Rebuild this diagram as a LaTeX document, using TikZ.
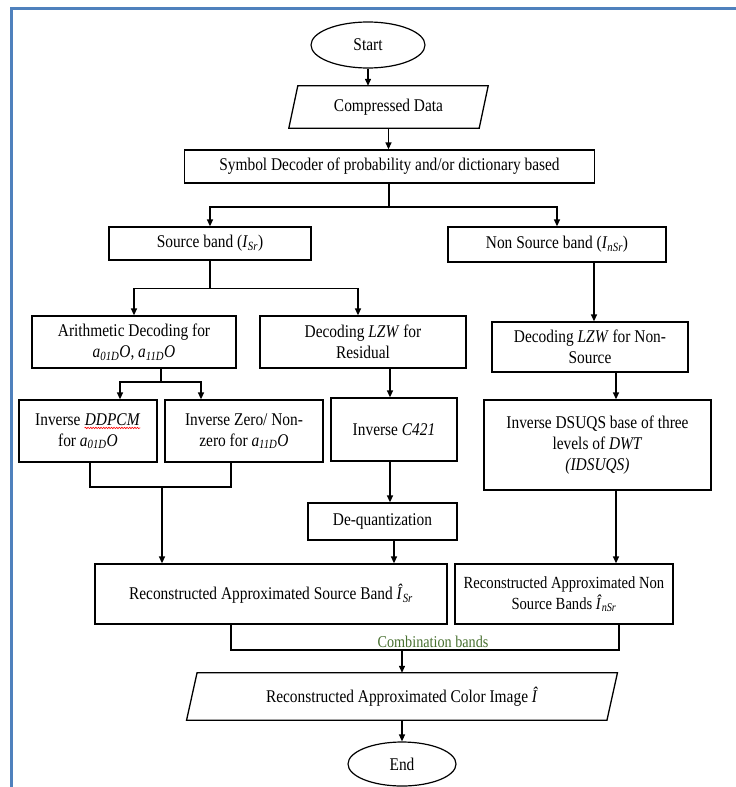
\documentclass[tikz,border=0pt]{standalone}
\usepackage{fontspec}
\setmainfont{Liberation Serif}[FakeStretch=0.86]
\usetikzlibrary{arrows.meta,shapes.geometric,decorations.pathmorphing}

\definecolor{framebl}{RGB}{79,129,189}
\definecolor{combgreen}{RGB}{72,112,48}

% italic symbol with italic subscript, e.g. a_{01D}
\newcommand{\isub}[2]{\textit{#1}\textsubscript{\textit{#2}}}

\begin{document}
\begin{tikzpicture}[x=1pt,y=-1pt,
  font=\fontsize{17.9}{21}\selectfont,
  line/.style={draw=black, line width=1.3pt},
  arr/.style={line, -{Triangle[length=7pt,width=6pt]}},
  box/.style={draw=black, line width=1.3pt, rectangle, align=center, inner sep=2pt},
  terminal/.style={draw=black, line width=1.2pt, ellipse, inner sep=0pt},
  iobox/.style={rectangle, align=center, inner sep=0pt},
  plain/.style={draw=none, rectangle, inner sep=0pt, minimum width=0pt, minimum height=0pt},
  wavy/.style={draw=red, line width=0.6pt, decorate,
    decoration={snake, amplitude=0.7pt, segment length=2.6pt}}]

\useasboundingbox (0,0) rectangle (736,787);
\fill[white] (0,0) rectangle (736,787);

% page frame
\draw[framebl, line width=3pt] (11,787) -- (11,8.5) -- (736,8.5);

% ---------- nodes ----------
\node[terminal, minimum width=114, minimum height=46] (start) at (368,45) {Start};

\node[iobox, minimum width=190, minimum height=42] (cdata) at (388.5,107) {Compressed Data};
\draw[line] ([xshift=-4.5pt]cdata.south west) -- ([xshift=-4.5pt]cdata.south east)
  -- ([xshift=4.5pt]cdata.north east) -- ([xshift=4.5pt]cdata.north west) -- cycle;

\node[box, minimum width=410, minimum height=33] (symdec) at (389.5,166.5)
  {Symbol Decoder of probability and/or dictionary based};

\node[box, minimum width=202, minimum height=33] (srcband) at (210,243.5)
  {Source band (\isub{I}{Sr})};
\node[box, minimum width=218, minimum height=35] (nsrcband) at (557,244.5)
  {Non Source band (\isub{I}{nSr})};

\node[box, minimum width=204, minimum height=52] (arith) at (134,342)
  {Arithmetic Decoding for\\\isub{a}{01D}\textit{O}, \isub{a}{11D}\textit{O}};
\node[box, minimum width=206, minimum height=52] (lzwres) at (363,342)
  {Decoding \textit{LZW} for\\Residual};
\node[box, minimum width=196, minimum height=50] (lzwnon) at (590,347)
  {Decoding \textit{LZW} for Non-\\Source};

\node[box, minimum width=138, minimum height=62] (invddpcm) at (88,431)
  {Inverse \tikz[baseline=(w.base)]{\node[plain] (w) {\textit{DDPCM}};
     \draw[wavy] ([yshift=-2.5pt]w.south west) -- ([yshift=-2.5pt]w.south east);}\\
   for \isub{a}{01D}\textit{O}};
\node[box, minimum width=158, minimum height=62] (invzero) at (244,431)
  {Inverse Zero/ Non-\\zero for \isub{a}{11D}\textit{O}};
\node[box, minimum width=126, minimum height=63] (invc421) at (394,429.5)
  {Inverse \textit{C421}};
\node[box, minimum width=149, minimum height=37] (dequant) at (382.5,521.5)
  {De-quantization};
\node[box, minimum width=227, minimum height=90] (dsuqs) at (597.5,445)
  {Inverse DSUQS base of three\\levels of \textit{DWT}\\\textit{(IDSUQS)}};

\node[box, minimum width=352, minimum height=60] (recsrc) at (271,594)
  {Reconstructed Approximated Source Band \isub{Î}{Sr}};
\node[box, minimum width=218, minimum height=60, font=\fontsize{17}{21}\selectfont]
  (recnsrc) at (564,594)
  {Reconstructed Approximated Non\\Source Bands \isub{Î}{nSr}};

\node[iobox, minimum width=420, minimum height=47] (color) at (402,696.5)
  {Reconstructed Approximated Color Image \textit{Î}};
\draw[line] ([xshift=-5.25pt]color.south west) -- ([xshift=-5.25pt]color.south east)
  -- ([xshift=5.25pt]color.north east) -- ([xshift=5.25pt]color.north west) -- cycle;

\node[terminal, minimum width=108, minimum height=44] (end) at (402,764) {End};

% ---------- connectors ----------
\draw[arr] (start.south) -- (start.south |- cdata.north);
\draw[arr] (cdata.south) -- (cdata.south |- symdec.north);

% split into source / non-source
\coordinate (b1) at (389,207);
\draw[line] (symdec.south -| b1) -- (b1);
\draw[arr] (b1) -| (srcband.north);
\draw[arr] (b1) -| (nsrcband.north);

% source band branches
\path (srcband.south) ++(0,28) coordinate (b2);
\draw[line] (srcband.south) -- (b2);
\draw[arr] (b2) -| (arith.north);
\draw[arr] (b2) -| ([xshift=-5pt]lzwres.north);

% arithmetic decoding branches
\coordinate (b3) at (161,382);
\draw[line] (arith.south -| b3) -- (b3);
\draw[arr] (b3) -| ([xshift=32pt]invddpcm.north);
\draw[arr] (b3) -| ([xshift=-43pt]invzero.north);

% merge into source reconstruction
\coordinate (m1) at (90,487);
\coordinate (m2) at (231,487);
\coordinate (m0) at (162,487);
\draw[line] (invddpcm.south -| m1) -- (m1) -- (m2) -- (invzero.south -| m2);
\draw[arr] (m0) -- (m0 |- recsrc.north);

% residual column
\coordinate (colR) at (390,0);
\draw[arr] (lzwres.south -| colR) -- (invc421.north -| colR);
\draw[arr] (invc421.south -| colR) -- (dequant.north -| colR);
\coordinate (colQ) at (394,0);
\draw[arr] (dequant.south -| colQ) -- (recsrc.north -| colQ);

% non-source column
\coordinate (colN) at (594,0);
\draw[arr] (nsrcband.south -| colN) -- (lzwnon.north -| colN);
\coordinate (colD) at (616,0);
\draw[arr] (lzwnon.south -| colD) -- (dsuqs.north -| colD);
\draw[arr] (dsuqs.south -| colD) -- (recnsrc.north -| colD);

% combination of the bands
\coordinate (cb1) at (231,650);
\coordinate (cb2) at (619,650);
\coordinate (cb0) at (402,650);
\draw[line] (recsrc.south -| cb1) -- (cb1) -- (cb2) -- (recnsrc.south -| cb2);
\node[text=combgreen, font=\fontsize{16.5}{18}\selectfont, anchor=south, inner sep=1pt]
  (comb) at (433,649) {Combination bands};
\draw[arr] (cb0) -- (cb0 |- color.north);
\draw[arr] (color.south -| end.north) -- (end.north);

\end{tikzpicture}
\end{document}
